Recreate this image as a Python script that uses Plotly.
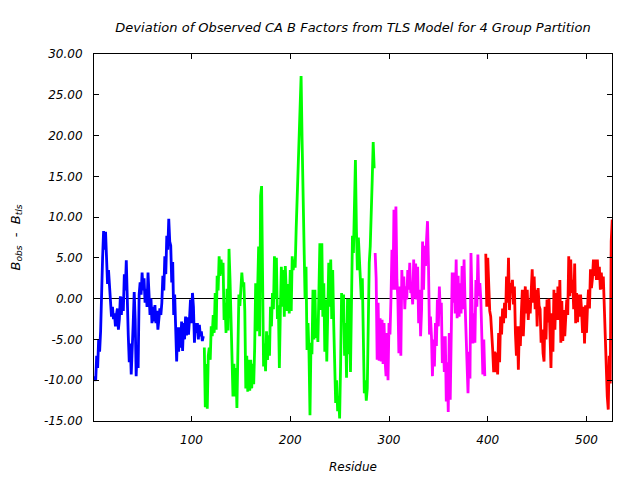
import numpy as np
import plotly.graph_objects as go

# Residue where each TLS group begins
blue_start = 2
green_start = 113
magenta_start = 286
red_start = 398

blue_vals = [
    -9.5, -10.1, -7.0, -8.5, -5.0, -6.5, -4.0, 2.0, 5.0, 8.3,
    6.0, 8.2, 5.0, 1.8, 3.5, 1.5, -1.3, -2.2, -1.0, -2.5,
    -1.8, -3.4, -2.0, -1.2, -3.8, -2.5, 0.3, -2.0, 0.2, -1.5,
    3.0, 1.0, 4.7, -1.0, -4.5, -7.8, -5.5, -9.3, -7.0, -3.0,
    0.8, -2.5, -9.5, -6.0, -8.5, 0.5, 2.0, 0.5, 3.2, 1.0,
    2.5, -0.5, 1.2, -1.0, 3.2, 0.5, -2.0, 0.0, -3.0, -1.0,
    -2.8, -0.8, -3.0, -1.5, -3.8, -2.5, -1.2, -2.0, -0.5, 2.8,
    1.0, 5.2, 3.0, 7.7, 6.0, 9.8, 7.0, 6.5, 2.0, 4.5,
    -2.0, 0.5, -3.0, -7.7, -3.5, -6.5, -3.5, -6.0, -2.8, -6.4,
    -3.0, -5.0, -2.2, -4.5, -2.3, -4.4, -2.5, -0.1, -3.0, 0.7,
    -1.0, -5.4, -3.0, -4.2, -3.0, -5.0, -3.2, -4.6, -4.0, -5.2,
    -4.6,
]

green_vals = [
    -6.0, -13.3, -8.0, -13.5, -7.0, -6.0, -7.5, -3.4, -4.6, -2.0,
    -4.2, 0.7, -3.8, 2.8, 1.0, 5.2, 2.8, 4.8, 3.0, 4.4,
    -2.6, -0.5, -4.2, 1.2, -3.9, 6.1, 2.5, -4.6, -7.0, -12.0,
    -8.0, -12.0, -8.5, -13.4, -6.0, 0.5, -0.9, 1.1, 3.2, 1.5,
    2.0, -1.5, -11.0, -7.0, -11.4, -7.5, -11.3, -7.5, -11.0, -8.0,
    -10.5, -6.0, 1.9, -4.0, 1.6, 6.4, -4.6, 12.6, 13.8, -3.0,
    -8.3, -5.5, -8.9, -4.0, -7.5, -4.5, -7.0, -1.0, -3.4, 0.7,
    -1.3, 5.2, 0.0, 5.0, -2.5, -0.8, -8.5, -1.5, 3.9, -1.0,
    3.5, -2.2, 4.0, 0.8, -1.5, 1.8, -1.8, 3.5, -1.5, 5.2,
    3.5, 4.8, 3.8, 8.5, 12.8, 14.2, 19.5, 25.0, 27.3, 19.5,
    12.0, 5.0, 0.0, 3.9, -6.3, -3.0, -6.7, -14.3, -5.4, -6.8,
    1.1, -5.0, 1.1, -4.8, -3.0, -5.3, 0.3, 6.8, -1.4, 6.8,
    -2.2, 1.9, -6.5, -0.1, -7.7, 0.0, 4.4, -1.0, 4.8, -2.5,
    3.5, -3.0, -8.5, -12.8, -10.0, -13.8, -12.0, -14.7, -8.0, 0.7,
    -2.2, 0.5, -7.0, -3.0, -9.7, 0.0, -6.8, 0.0, -9.0, 2.3,
    7.7, 5.6, 12.2, 17.0, 8.5, 3.5, 7.5, 4.3, 2.0, -0.1,
    2.5, -5.0, -11.6, -10.0, -12.5, -11.0, -3.0, 4.4, 6.4, 9.7,
    14.5, 19.2, 16.0,
]

magenta_vals = [
    5.6, 2.5, -7.5, -0.5, -7.6, -2.4, -7.7, -2.6, -8.0, -3.0,
    -7.5, -9.5, -4.2, -10.0, -3.0, -4.4, 0.0, 6.0, 1.1, 10.9,
    1.1, 11.3, 2.3, -0.1, -6.7, 1.5, -7.0, 3.5, -0.1, 2.7,
    -1.3, 1.5, -0.1, 3.5, 1.1, 4.4, 0.7, 1.0, -0.7, 4.8,
    0.0, 4.3, -0.1, 3.9, -3.0, 1.1, -4.6, -1.4, 7.0, 1.1,
    6.5, 4.0, 7.2, 9.5, 4.0, -4.4, -2.2, -4.6, -9.5, -5.0,
    -8.3, -3.0, -5.8, -0.1, -3.4, 1.5, -1.8, -0.5, -7.9, -4.6,
    -9.0, -4.6, -12.6, -7.8, -13.9, -4.2, -12.4, -1.0, 3.2, -0.5,
    3.2, -1.8, 4.8, -2.4, 2.8, -2.2, 1.9, -1.8, 4.0, -1.3,
    4.8, -0.5, -4.6, -6.5, -11.6, -6.5, -9.8, 5.6, -2.8, -5.5,
    -1.8, -5.4, 2.3, -1.0, 5.4, 0.3, 1.9, -0.1, -4.6, -9.3,
    -5.0, -9.5,
]

red_vals = [
    5.5, -1.0, 5.0, 2.0, -1.5,
    -2.2, -4.0, -6.3, -9.0, -6.5, -9.0, -6.6, -9.3, -4.2, -7.8,
    -2.2, -4.4, -1.2, -3.0, -0.5, -2.4, 2.7, -0.5, 5.0, -1.4,
    1.9, 1.1, 2.3, -0.7, 1.5, -4.2, -7.0, -3.4, -8.7, -3.4,
    -5.8, -1.8, 1.1, -4.6, 0.3, 1.5, -1.8, 1.1, -2.6, -0.1,
    -1.8, 1.5, 3.6, -0.5, 2.7, -1.3, 1.1, -3.4, 1.3, -0.9,
    -1.3, -5.4, -3.8, -6.7, -7.7, -1.0, -5.0, -0.1, -2.9, 0.0,
    -5.7, -8.5, -1.8, -6.5, 1.1, -3.8, 0.7, -2.6, 1.5, -2.6,
    2.3, -5.4, -0.3, -5.2, -1.4, -4.6, -2.2, -0.1, -2.0, 5.2,
    0.3, 4.8, 0.7, 2.3, -1.3, 4.3, -3.0, 0.7, -2.9, 0.5,
    -2.2, 0.5, -1.5, -4.2, -1.0, -5.5, -0.8, -4.2, -1.0, 1.1,
    -1.2, 3.6, 1.3, 2.5, 4.8, 2.8, 4.8, 2.3, 4.8, 2.3,
    3.9, 1.1, 3.2, 1.2, 2.7, -1.3, -3.4, -7.9, -12.0, -13.6,
    -7.0, -10.4, 7.0, 9.7,
]

x_ticks = [100, 200, 300, 400, 500]
y_ticks = [-15, -10, -5, 0, 5, 10, 15, 20, 25, 30]

groups = [
    (blue_start, blue_vals, "#0000ff"),
    (green_start, green_vals, "#00ff00"),
    (magenta_start, magenta_vals, "#ff00ff"),
    (red_start, red_vals, "#ff0000"),
]

FONT = "DejaVu Sans"

fig = go.Figure()
for start, vals, color in groups:
    x = np.arange(start, start + len(vals))
    fig.add_trace(go.Scatter(x=x, y=vals, mode="lines",
                             line=dict(color=color, width=2.8),
                             showlegend=False, hoverinfo="skip"))

axis_common = dict(
    showline=True, linecolor="black", linewidth=1, mirror="allticks",
    ticks="inside", ticklen=5, tickwidth=1, tickcolor="black",
    showgrid=False,
    tickfont=dict(family=FONT, size=12, color="black", style="italic"),
)

fig.update_layout(
    width=640, height=480,
    margin=dict(l=94, r=28, t=54, b=59, autoexpand=False),
    paper_bgcolor="white", plot_bgcolor="white",
    title=dict(text="Deviation of Observed CA B Factors from TLS Model for 4 Group Partition",
               x=0.5, xref="paper", xanchor="center",
               y=1 - 27 / 480, yref="container", yanchor="middle",
               font=dict(family=FONT, size=13, color="black", style="italic")),
    xaxis=dict(range=[1.3, 525.8], tickvals=x_ticks,
               ticktext=[str(v) for v in x_ticks],
               zeroline=False, ticklabelstandoff=8, **axis_common),
    yaxis=dict(range=[-15, 30], tickvals=y_ticks,
               ticktext=["%.2f" % v for v in y_ticks],
               zeroline=True, zerolinecolor="black", zerolinewidth=1,
               ticklabelstandoff=8, **axis_common),
    annotations=[
        dict(text="Residue", xref="paper", yref="paper", x=0.5, y=(421 - 467) / 367,
             xanchor="center", yanchor="middle", showarrow=False,
             font=dict(family=FONT, size=12, color="black", style="italic")),
        dict(text="B<sub>obs</sub>  -  B<sub>tls</sub>", xref="paper", yref="paper",
             x=(16 - 94) / 518, y=0.5, textangle=-90,
             xanchor="center", yanchor="middle", showarrow=False,
             font=dict(family=FONT, size=13, color="black", style="italic")),
    ],
)

fig.write_html("out.html")
